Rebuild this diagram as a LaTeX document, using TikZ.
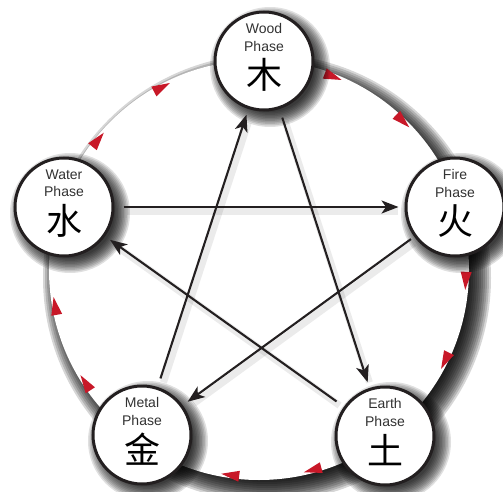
\documentclass[tikz,border=0pt]{standalone}
\usepackage{fontspec}
\setmainfont{Liberation Sans}
\newfontfamily\cjk{Noto Sans CJK SC}
\usetikzlibrary{arrows.meta,calc}
\definecolor{ink}{RGB}{35,31,32}
\definecolor{arrred}{RGB}{200,24,40}
\definecolor{txtgray}{RGB}{50,50,50}
\begin{document}
\begin{tikzpicture}[x=1pt,y=1pt,
  phase/.style={circle, draw=ink, line width=3pt, fill=white, minimum size=98pt, inner sep=0pt},
  lbl/.style={align=center, font=\fontsize{14}{17.5}\selectfont, text=txtgray, inner sep=0pt, anchor=north},
  hanzi/.style={font=\cjk\fontsize{36}{36}\selectfont, inner sep=0pt},
  conn/.style={draw=ink, line width=2.1pt, -{Stealth[length=17pt,width=13pt,inset=4.5pt]}, shorten <=9pt, shorten >=6pt},
  lsh/.style={draw=black, opacity=0.08, line width=7pt, shorten <=9pt, shorten >=10pt, transform canvas={shift={(3pt,-4pt)}}},
  tri/.style={fill=arrred}
]
\useasboundingbox (0,0) rectangle (503,491);
\coordinate (C) at (259,221);
\coordinate (woodc) at (264,430);
\coordinate (firec) at (455,284);
\coordinate (earthc) at (385,55);
\coordinate (metalc) at (142,56);
\coordinate (waterc) at (64,284);
% big disk shadow
\foreach \i in {0,...,12} {
  \fill[black, opacity=0.16] ($(C)+(8,-8)$) circle ({224-2*\i});
}
\fill[white] (C) circle (210);
% red triangles
\foreach \a in {69,46,-3,-26,-75,-98,-147,-170,141,118} {
  \fill[tri, shift={(C)}, rotate=\a] (207,-9) -- (201.5,9) -- (212.5,9) -- cycle;
}
% node shadows
\foreach \p in {woodc,firec,earthc,metalc,waterc} {
  \foreach \i in {0,...,10} {
    \fill[black, opacity=0.12] ($(\p)+(6,-6)$) circle ({60-1.5*\i});
  }
}
% nodes
\node[phase] (wood) at (woodc) {};
\node[phase] (fire) at (firec) {};
\node[phase] (earth) at (earthc) {};
\node[phase] (metal) at (metalc) {};
\node[phase] (water) at (waterc) {};
\node[lbl] (woodl) at ($(wood)+(0,37.5)$) {Wood\\Phase};
\node[lbl] (firel) at ($(fire)+(0,37.5)$) {Fire\\Phase};
\node[lbl] (earthl) at ($(earth)+(0,37.5)$) {Earth\\Phase};
\node[lbl] (metall) at ($(metal)+(0,37.5)$) {Metal\\Phase};
\node[lbl] (waterl) at ($(water)+(0,37.5)$) {Water\\Phase};
\node[hanzi] (woodh) at ($(wood)+(0,-14)$) {木};
\node[hanzi] (fireh) at ($(fire)+(0,-14)$) {火};
\node[hanzi] (earthh) at ($(earth)+(0,-14)$) {土};
\node[hanzi] (metalh) at ($(metal)+(0,-14)$) {金};
\node[hanzi] (waterh) at ($(water)+(0,-14)$) {水};
% connector shadows
\draw[lsh] (water) -- (fire);
\draw[lsh, shorten <=4pt] (fire) -- (metal);
\draw[lsh] (metal) -- (wood);
\draw[lsh] (wood) -- (earth);
\draw[lsh] (earth) -- (water);
% connectors
\draw[conn] (water) -- (fire);
\draw[conn, shorten <=4pt] (fire) -- (metal);
\draw[conn] (metal) -- (wood);
\draw[conn] (wood) -- (earth);
\draw[conn] (earth) -- (water);
\end{tikzpicture}
\end{document}
